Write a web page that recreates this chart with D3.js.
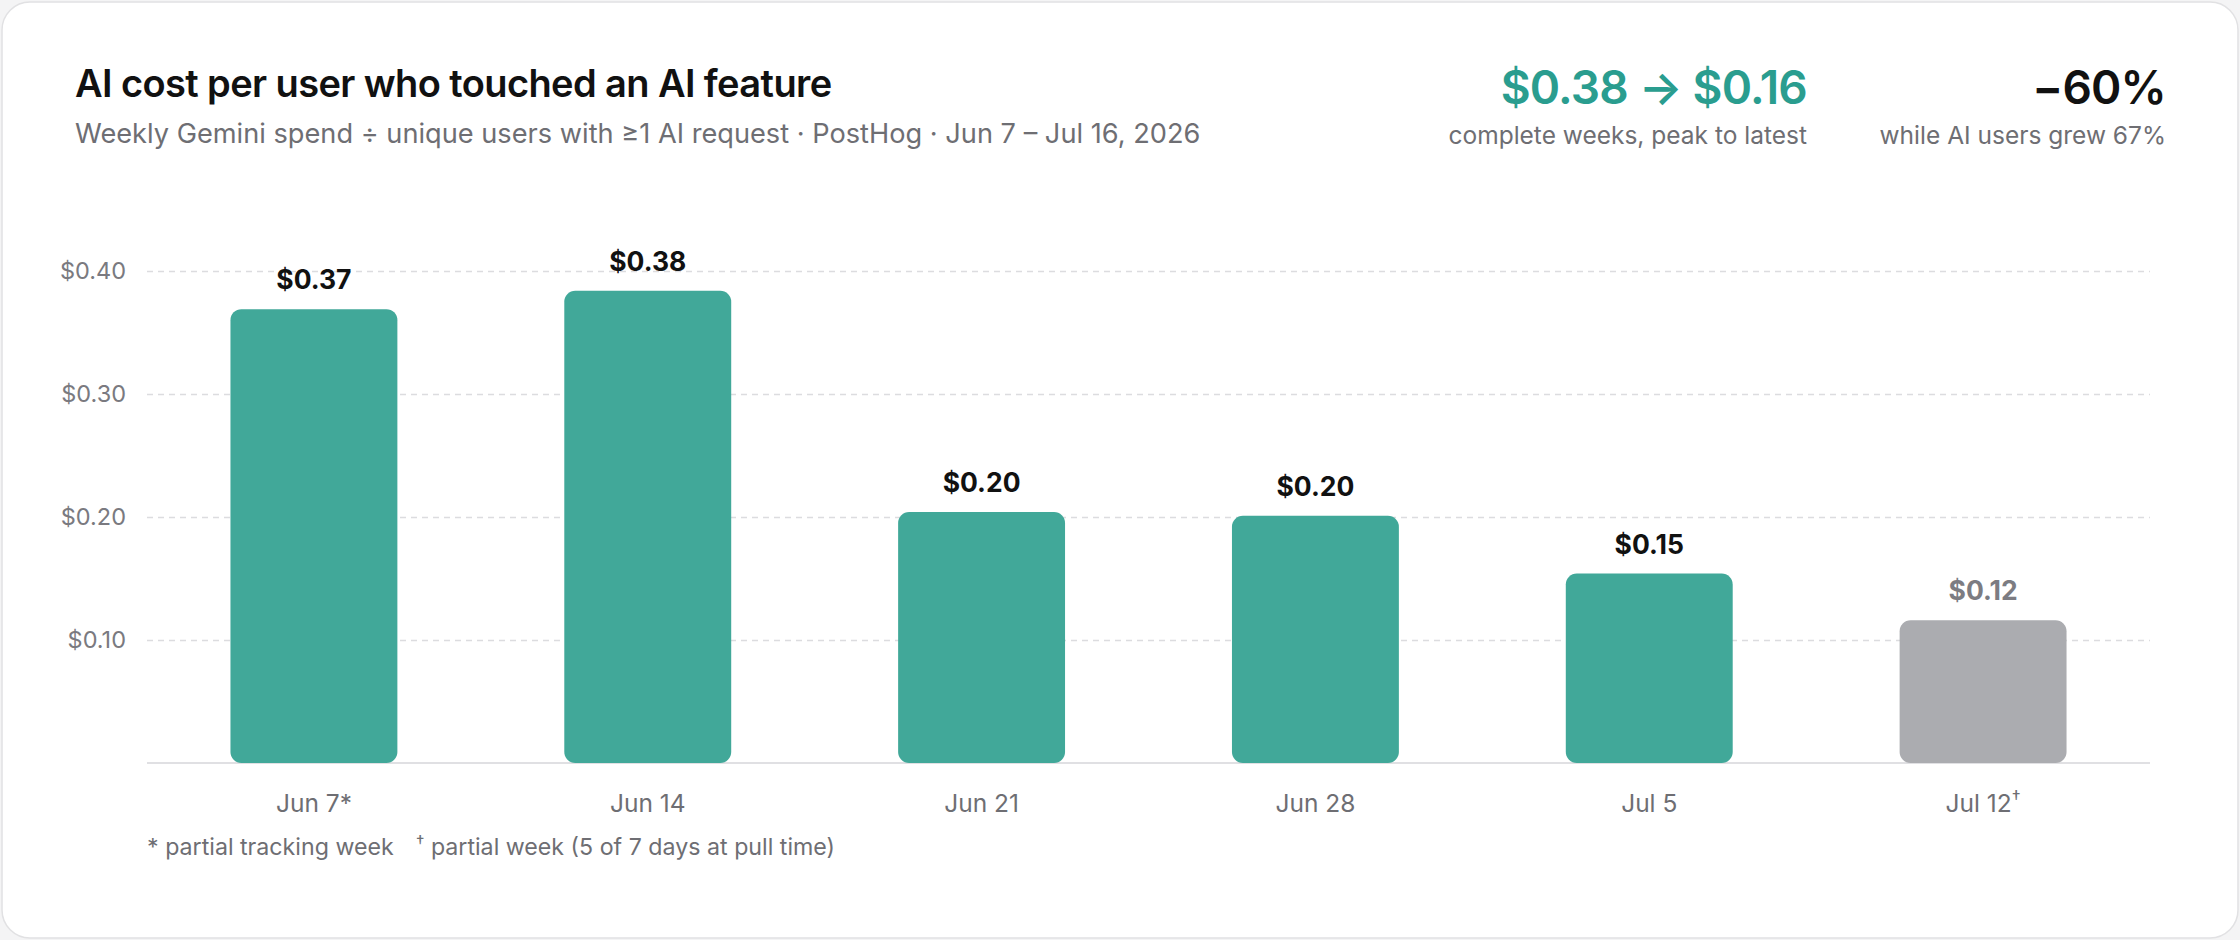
<!DOCTYPE html>
<html>
<head>
<meta charset="utf-8">
<script src="https://cdn.jsdelivr.net/npm/d3@7"></script>
<style>
  html, body { margin: 0; padding: 0; background: #f4f4f5; }
  svg { display: block; font-family: Inter, "Noto Sans", sans-serif; }
</style>
</head>
<body>
<div id="chart"></div>
<script>
// weekly AI cost per user
var weeks = ['Jun 7', 'Jun 14', 'Jun 21', 'Jun 28', 'Jul 5', 'Jul 12'];
var weekMarks = ['*', '', '', '', '', '\u2020'];
var costPerUser = [0.369, 0.384, 0.204, 0.201, 0.154, 0.116];
var partialWeek = [false, false, false, false, false, true];
var yTicks = [0.1, 0.2, 0.3, 0.4];

var W = 2240, H = 940;
var teal = '#41a899', grey = '#abacb0';

var svg = d3.select('#chart').append('svg')
    .attr('width', W)
    .attr('height', H);

// card
svg.append('rect')
    .attr('x', 2).attr('y', 2)
    .attr('width', W - 4).attr('height', H - 4)
    .attr('rx', 28)
    .attr('fill', '#fff')
    .attr('stroke', '#e1e1e3')
    .attr('stroke-width', 1.5);

// header
svg.append('text')
    .attr('x', 75).attr('y', 97)
    .attr('font-size', 38).attr('font-weight', 600)
    .attr('letter-spacing', -0.6)
    .attr('fill', '#111')
    .text('AI cost per user who touched an AI feature');

svg.append('text')
    .attr('x', 75).attr('y', 143)
    .attr('font-size', 27.2)
    .attr('fill', '#6e6e73')
    .text('Weekly Gemini spend \u00f7 unique users with \u22651 AI request \u00b7 PostHog \u00b7 Jun 7 \u2013 Jul 16, 2026');

var kpis = [
    {x: 1807, big: '$0.38 \u2192 $0.16', small: 'complete weeks, peak to latest', color: '#2a9d8f'},
    {x: 2166, big: '\u221260%', small: 'while AI users grew 67%', color: '#111'}
];
var kpi = svg.selectAll('.kpi').data(kpis).enter().append('g')
    .attr('class', 'kpi')
    .attr('text-anchor', 'end');
kpi.append('text')
    .attr('x', d => d.x).attr('y', 104)
    .attr('font-size', 46).attr('font-weight', 600)
    .attr('letter-spacing', -0.8)
    .attr('fill', d => d.color)
    .text(d => d.big);
kpi.append('text')
    .attr('x', d => d.x).attr('y', 144)
    .attr('font-size', 24.5)
    .attr('fill', '#6e6e73')
    .text(d => d.small);

// scales
var margin = {left: 147, right: 90, top: 271, bottom: 177};
var x = d3.scaleBand()
    .domain(weeks)
    .range([margin.left, W - margin.right])
    .paddingInner(0.5)
    .paddingOuter(0.25);

var y = d3.scaleLinear()
    .domain([0, 0.4])
    .range([H - margin.bottom, margin.top]);

var fmt = d3.format('$.2f');

// grid + y labels
var yAxis = svg.append('g')
    .attr('transform', 'translate(' + margin.left + ',0)')
    .call(d3.axisLeft(y).tickValues(yTicks).tickFormat(fmt)
        .tickSize(-(W - margin.left - margin.right)).tickPadding(21));
yAxis.select('.domain').remove();
yAxis.selectAll('.tick line')
    .attr('stroke', '#dcdcdf')
    .attr('stroke-width', 1.3)
    .attr('stroke-dasharray', '6,5');
yAxis.selectAll('.tick text')
    .attr('font-size', 23.5)
    .attr('font-family', 'Inter, sans-serif')
    .attr('fill', '#7a7a80');

// baseline
svg.append('line')
    .attr('x1', margin.left).attr('x2', W - margin.right)
    .attr('y1', y(0)).attr('y2', y(0))
    .attr('stroke', '#e0e0e3')
    .attr('stroke-width', 2);

// bars
var data = weeks.map((w, i) => ({week: w, mark: weekMarks[i], v: costPerUser[i], partial: partialWeek[i]}));

svg.selectAll('.bar').data(data).enter().append('rect')
    .attr('class', 'bar')
    .attr('x', d => x(d.week))
    .attr('y', d => y(d.v))
    .attr('width', x.bandwidth())
    .attr('height', d => y(0) - y(d.v))
    .attr('rx', 11)
    .attr('fill', d => d.partial ? grey : teal);

svg.selectAll('.val').data(data).enter().append('text')
    .attr('class', 'val')
    .attr('x', d => x(d.week) + x.bandwidth() / 2)
    .attr('y', d => y(d.v) - 20)
    .attr('text-anchor', 'middle')
    .attr('font-size', 26.5).attr('font-weight', 700)
    .attr('fill', d => d.partial ? '#7c7c82' : '#111')
    .text(d => fmt(d.v));

// x labels
var xl = svg.selectAll('.xl').data(data).enter().append('text')
    .attr('class', 'xl')
    .attr('x', d => x(d.week) + x.bandwidth() / 2)
    .attr('y', 812)
    .attr('text-anchor', 'middle')
    .attr('font-size', 24.5)
    .attr('fill', '#6e6e73');
xl.append('tspan').text(d => d.week);
xl.filter(d => d.mark == '*').append('tspan').text('*');
xl.filter(d => d.mark == '\u2020').append('tspan')
    .attr('font-size', 18).attr('dy', -8)
    .text('\u2020');

// footnote
var foot = svg.append('text')
    .attr('x', margin.left).attr('y', 855)
    .attr('font-size', 23.2)
    .attr('fill', '#6e6e73');
foot.append('tspan').text('* partial tracking week');
foot.append('tspan').attr('x', 416).attr('dy', -7).attr('font-size', 17).text('\u2020');
foot.append('tspan').attr('dy', 7).text(' partial week (5 of 7 days at pull time)');
</script>
</body>
</html>
